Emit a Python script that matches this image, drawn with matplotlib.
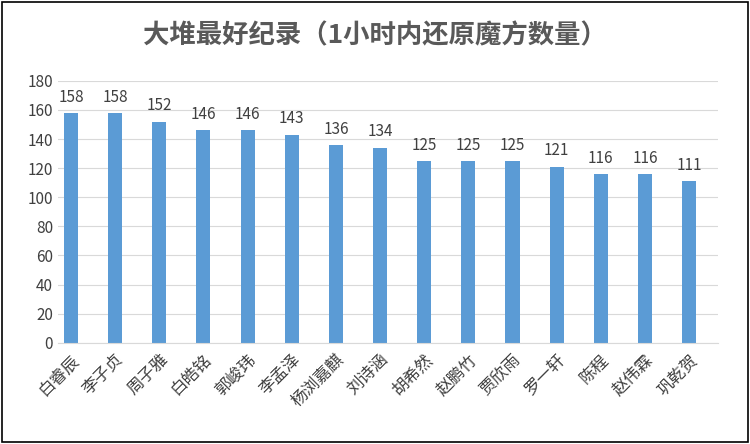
import matplotlib
matplotlib.use("Agg")
import matplotlib.pyplot as plt
from matplotlib.patches import Rectangle

plt.rcParams['font.family'] = ['Noto Sans CJK SC', 'DejaVu Sans']

names = ["白睿辰","李子贞","周子雅","白皓铭","郭峻玮","李孟泽","杨浏嘉麒","刘诗涵","胡希然","赵鹏竹","贾欣雨","罗一轩","陈程","赵伟霖","巩乾贺"]
values = [158,158,152,146,146,143,136,134,125,125,125,121,116,116,111]
title = "大堆最好纪录（1小时内还原魔方数量）"

fig = plt.figure(figsize=(7.5,4.44), dpi=100)
ax = fig.add_axes([0.077, 0.228, 0.88, 0.59])
x = range(len(names))
ax.bar(x, values, width=0.32, color='#5B9BD5')
for xi, v in zip(x, values):
    ax.text(xi, v + 5, str(v), ha='center', va='bottom', fontsize=11, color='#404040')
ax.set_ylim(0, 180)
ax.set_yticks(range(0, 181, 20))
ax.set_xlim(-0.3, len(names)-0.35)
ax.set_xticks(list(x))
ax.set_xticklabels(names, rotation=45, ha='right', rotation_mode='anchor', fontsize=12, color='#404040')
ax.tick_params(axis='y', labelsize=11, colors='#404040', length=0)
ax.tick_params(axis='x', length=0, pad=6)
ax.grid(axis='y', color='#D9D9D9', linewidth=0.8)
ax.set_axisbelow(True)
for s in ['top','right','left']:
    ax.spines[s].set_visible(False)
ax.spines['bottom'].set_color('#D9D9D9')
fig.text(0.5, 0.92, title, ha='center', va='center', fontsize=19, color='#595959', fontweight='bold')
fig.patches.append(Rectangle((0.003,0.004),0.994,0.992, transform=fig.transFigure, fill=False, edgecolor='black', linewidth=1.2))
fig.savefig("out.png", dpi=100)
